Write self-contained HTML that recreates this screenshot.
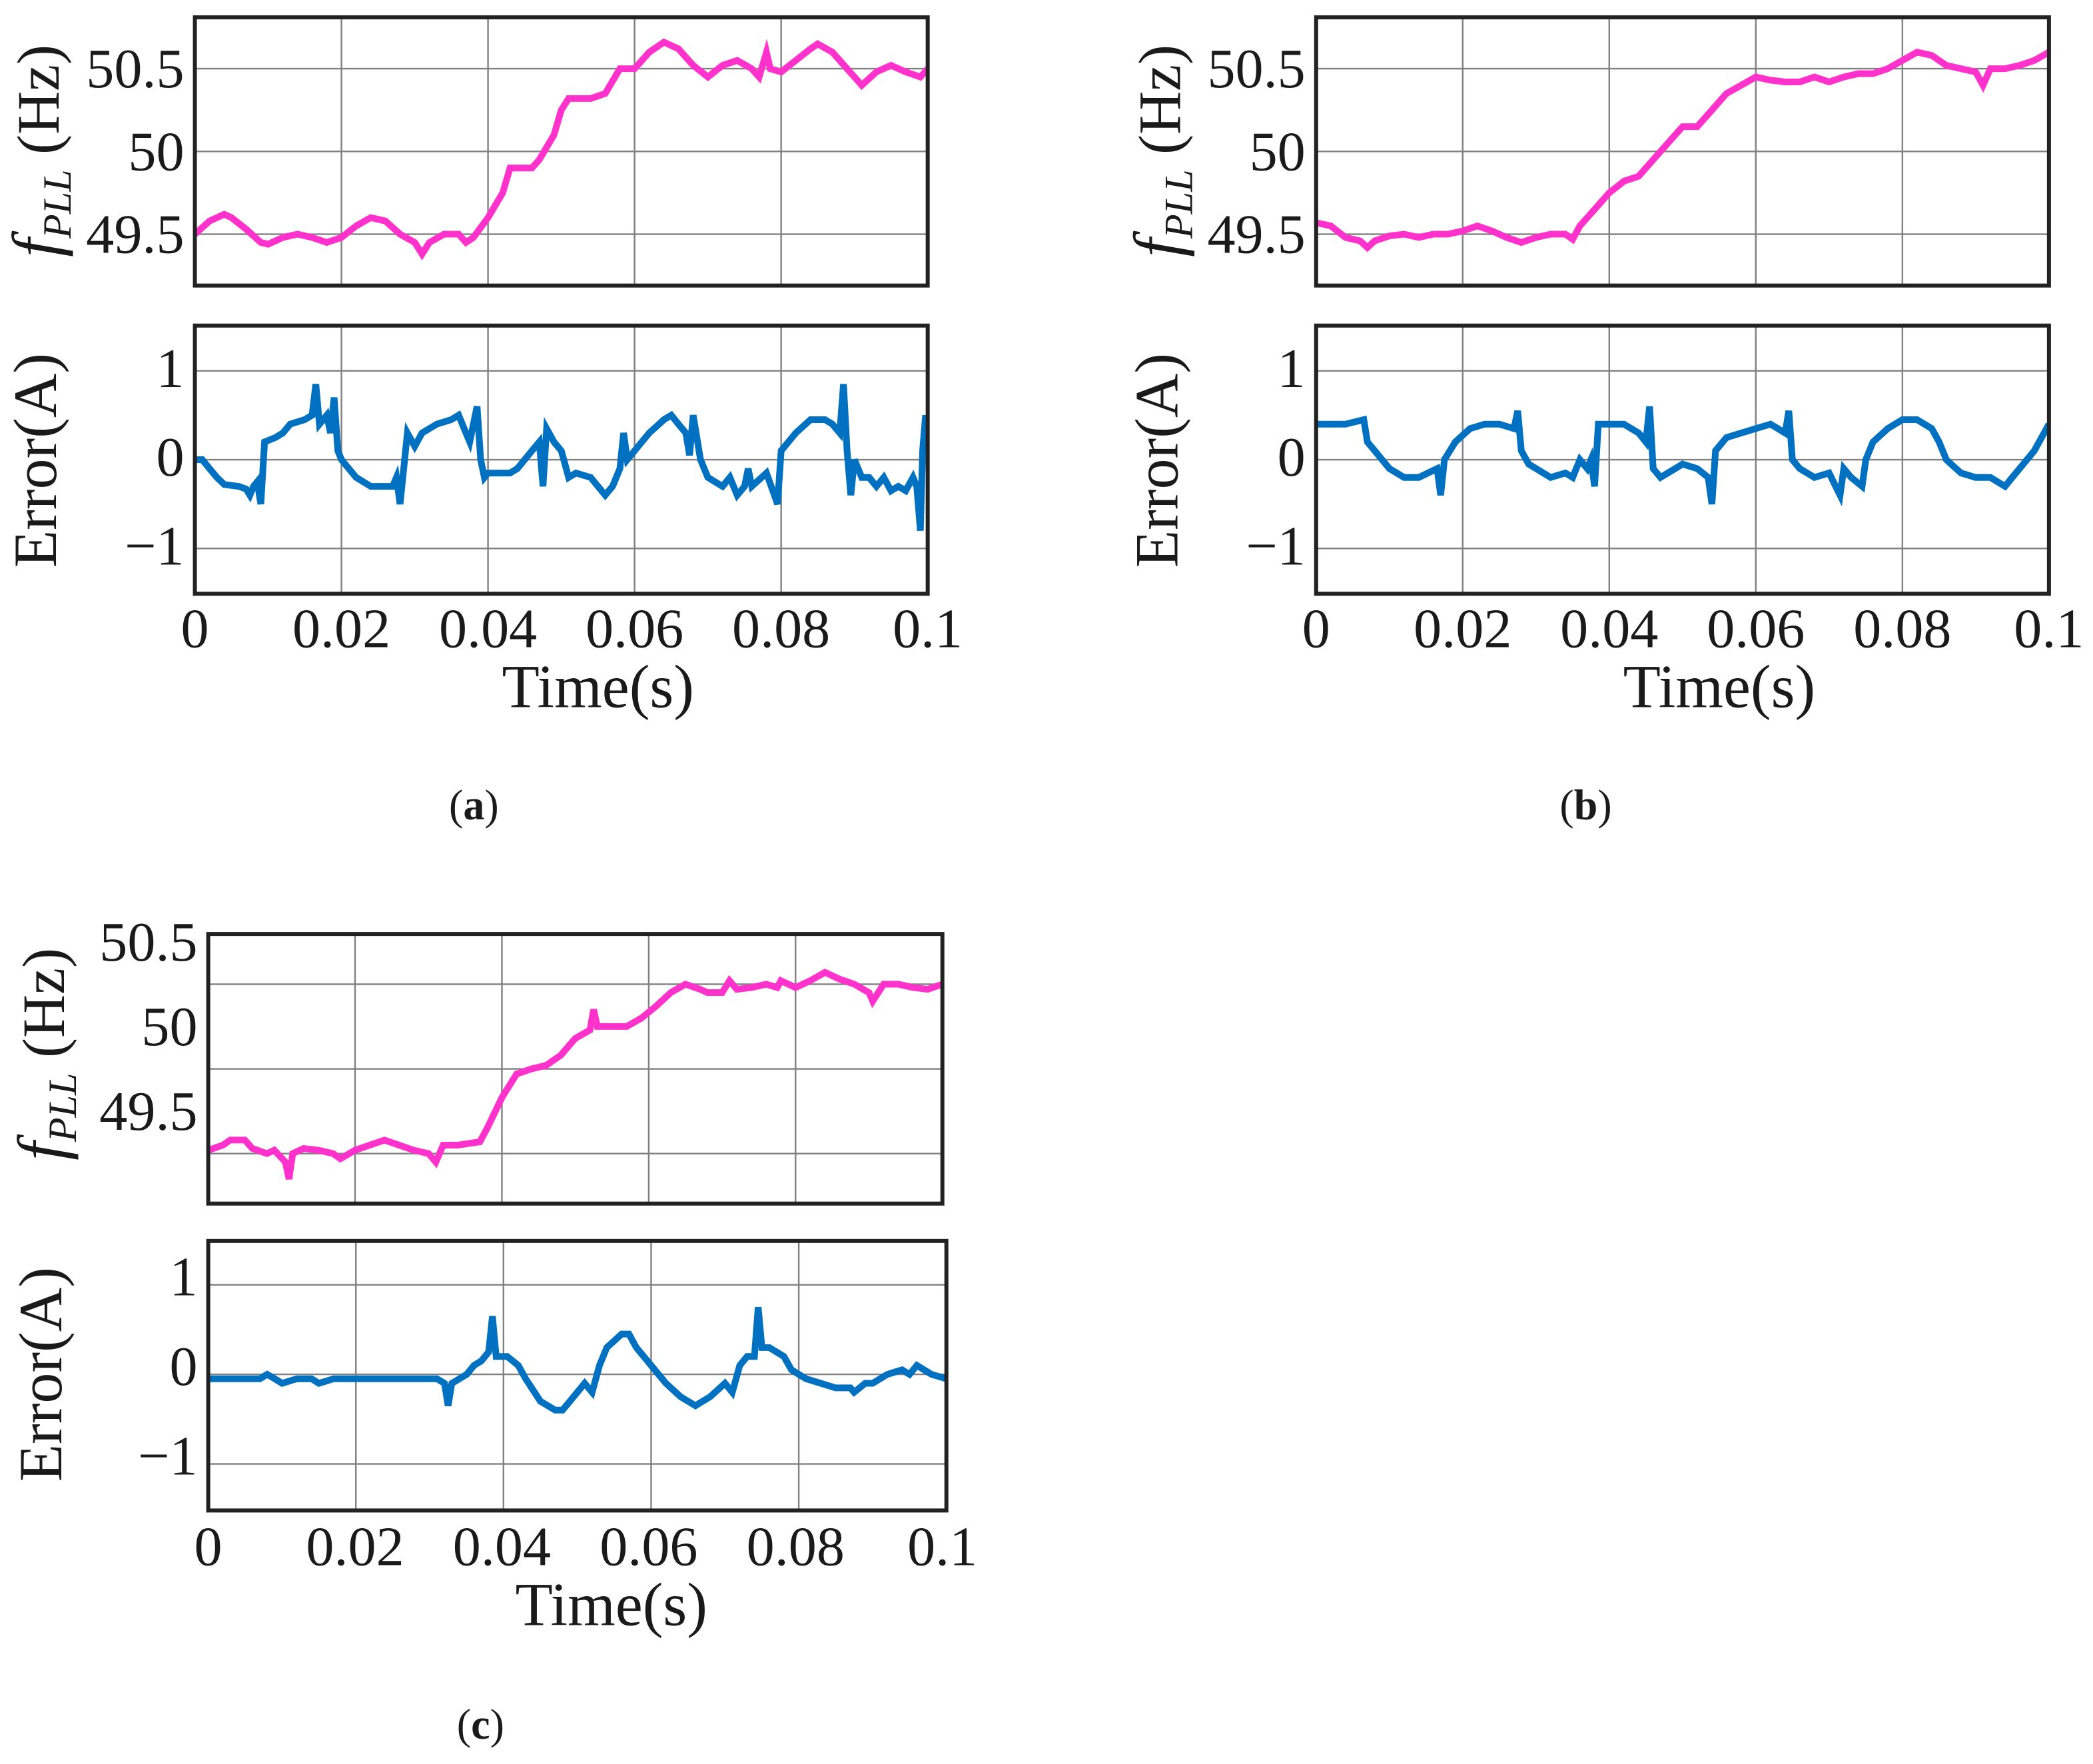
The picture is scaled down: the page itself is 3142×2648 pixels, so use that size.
<!DOCTYPE html>
<html><head><meta charset="utf-8"><style>
html,body{margin:0;padding:0;background:#fff}
svg{display:block}
text{font-family:"Liberation Serif",serif;fill:#1a1a1a}
</style></head>
<body>
<svg id="fig" width="3142" height="2648" viewBox="0 0 1568 1322" preserveAspectRatio="none" xmlns="http://www.w3.org/2000/svg"></svg>
<script>
// ---- data (time in s) ----
const aFreqT=[0,0.002,0.004,0.005,0.007,0.009,0.01,0.012,0.014,0.016,0.018,0.02,0.022,0.024,0.026,0.028,0.03,0.031,0.032,0.034,0.036,0.037,0.038,0.04,0.042,0.043,0.046,0.047,0.049,0.05,0.051,0.054,0.056,0.058,0.06,0.062,0.064,0.066,0.068,0.07,0.072,0.074,0.076,0.077,0.078,0.0785,0.08,0.082,0.084,0.085,0.087,0.089,0.09,0.091,0.093,0.095,0.097,0.099,0.1];
const aFreqV=[49.5,49.58,49.62,49.6,49.53,49.45,49.44,49.48,49.5,49.48,49.45,49.48,49.55,49.6,49.58,49.5,49.45,49.38,49.45,49.5,49.5,49.45,49.48,49.6,49.75,49.9,49.9,49.95,50.1,50.25,50.32,50.32,50.35,50.5,50.5,50.6,50.66,50.62,50.52,50.45,50.52,50.55,50.5,50.45,50.6,50.5,50.48,50.55,50.62,50.65,50.6,50.5,50.45,50.4,50.48,50.52,50.48,50.45,50.5];
const aErrT=[0,0.001,0.002,0.003,0.004,0.006,0.007,0.0075,0.008,0.0085,0.009,0.0095,0.011,0.012,0.013,0.015,0.016,0.0165,0.017,0.018,0.0185,0.019,0.0195,0.02,0.021,0.022,0.024,0.026,0.027,0.0275,0.028,0.029,0.03,0.031,0.033,0.035,0.036,0.037,0.0375,0.0385,0.039,0.0395,0.04,0.043,0.044,0.046,0.047,0.0475,0.048,0.049,0.05,0.051,0.052,0.054,0.056,0.057,0.058,0.0585,0.059,0.06,0.062,0.064,0.065,0.066,0.067,0.0675,0.068,0.069,0.07,0.072,0.073,0.074,0.075,0.0755,0.076,0.078,0.0795,0.08,0.082,0.084,0.086,0.087,0.088,0.0885,0.089,0.0895,0.09,0.091,0.092,0.093,0.094,0.095,0.096,0.097,0.098,0.0985,0.099,0.0993,0.0997,0.1];
const aErrV=[0,0,-0.1,-0.2,-0.28,-0.3,-0.33,-0.4,-0.3,-0.25,-0.5,0.2,0.25,0.3,0.4,0.45,0.5,0.85,0.4,0.5,0.3,0.7,0.1,0,-0.1,-0.2,-0.3,-0.3,-0.3,-0.2,-0.5,0.3,0.15,0.3,0.4,0.45,0.5,0.3,0.2,0.6,0,-0.2,-0.15,-0.15,-0.1,0.1,0.2,-0.3,0.35,0.2,0.1,-0.2,-0.15,-0.2,-0.4,-0.3,-0.1,0.3,0,0.1,0.3,0.45,0.5,0.4,0.3,0.05,0.5,0,-0.2,-0.3,-0.2,-0.4,-0.3,-0.1,-0.3,-0.15,-0.5,0.1,0.3,0.45,0.45,0.4,0.3,0.85,0.1,-0.4,0,-0.2,-0.2,-0.3,-0.2,-0.35,-0.3,-0.35,-0.2,-0.3,-0.8,0.1,0.5,0.1];
const bFreqT=[0,0.002,0.004,0.006,0.007,0.008,0.01,0.012,0.014,0.016,0.018,0.02,0.022,0.024,0.026,0.028,0.03,0.032,0.034,0.035,0.036,0.038,0.04,0.042,0.044,0.046,0.048,0.05,0.052,0.054,0.056,0.058,0.06,0.062,0.064,0.066,0.068,0.07,0.072,0.074,0.076,0.078,0.08,0.082,0.084,0.086,0.088,0.09,0.091,0.092,0.094,0.096,0.098,0.1];
const bFreqV=[49.57,49.55,49.48,49.46,49.42,49.46,49.49,49.5,49.48,49.5,49.5,49.52,49.55,49.52,49.48,49.45,49.48,49.5,49.5,49.47,49.55,49.65,49.75,49.82,49.85,49.95,50.05,50.15,50.15,50.25,50.35,50.4,50.45,50.43,50.42,50.42,50.45,50.42,50.45,50.47,50.47,50.5,50.55,50.6,50.58,50.52,50.5,50.48,50.4,50.5,50.5,50.52,50.55,50.6];
const bErrT=[0,0.004,0.0065,0.007,0.008,0.009,0.01,0.012,0.014,0.0165,0.017,0.0175,0.019,0.021,0.023,0.025,0.027,0.0275,0.028,0.029,0.031,0.032,0.034,0.035,0.036,0.037,0.0375,0.038,0.0385,0.04,0.042,0.044,0.045,0.0455,0.046,0.047,0.049,0.05,0.052,0.0535,0.054,0.0545,0.056,0.058,0.06,0.062,0.064,0.0645,0.065,0.066,0.068,0.07,0.0715,0.072,0.073,0.0745,0.075,0.076,0.078,0.08,0.082,0.084,0.085,0.086,0.088,0.09,0.092,0.094,0.095,0.096,0.098,0.1];
const bErrV=[0.4,0.4,0.45,0.2,0.1,0,-0.1,-0.2,-0.2,-0.1,-0.4,0,0.2,0.35,0.4,0.4,0.35,0.55,0.1,-0.05,-0.15,-0.2,-0.15,-0.2,0,-0.1,0,-0.3,0.4,0.4,0.4,0.3,0.2,0.6,-0.1,-0.2,-0.1,-0.05,-0.1,-0.2,-0.5,0.1,0.25,0.3,0.35,0.4,0.3,0.55,0,-0.1,-0.2,-0.15,-0.4,-0.1,-0.2,-0.3,0,0.2,0.35,0.45,0.45,0.35,0.2,0,-0.15,-0.2,-0.2,-0.3,-0.2,-0.1,0.1,0.4];
const cFreqT=[0,0.002,0.003,0.005,0.006,0.008,0.009,0.0105,0.011,0.0115,0.013,0.015,0.017,0.018,0.02,0.022,0.024,0.026,0.028,0.03,0.031,0.032,0.034,0.037,0.038,0.04,0.042,0.044,0.046,0.048,0.05,0.052,0.0525,0.053,0.055,0.057,0.059,0.061,0.063,0.065,0.067,0.068,0.07,0.071,0.072,0.074,0.076,0.0775,0.078,0.08,0.082,0.084,0.086,0.088,0.09,0.0905,0.092,0.094,0.096,0.098,0.1];
const cFreqV=[49.27,49.3,49.33,49.33,49.28,49.25,49.27,49.2,49.1,49.25,49.28,49.27,49.25,49.22,49.27,49.3,49.33,49.3,49.27,49.25,49.2,49.3,49.3,49.32,49.4,49.58,49.72,49.75,49.77,49.83,49.93,49.98,50.1,50.0,50.0,50.0,50.05,50.12,50.2,50.25,50.22,50.2,50.2,50.27,50.22,50.23,50.25,50.23,50.27,50.23,50.27,50.32,50.28,50.25,50.2,50.15,50.25,50.25,50.23,50.22,50.25];
const cErrT=[0,0.002,0.005,0.007,0.008,0.009,0.01,0.012,0.014,0.015,0.017,0.02,0.025,0.03,0.031,0.032,0.0325,0.033,0.035,0.036,0.037,0.038,0.0385,0.039,0.0405,0.042,0.043,0.045,0.047,0.048,0.049,0.05,0.051,0.052,0.053,0.054,0.056,0.057,0.058,0.059,0.06,0.062,0.064,0.066,0.067,0.068,0.07,0.071,0.072,0.073,0.074,0.0745,0.075,0.076,0.078,0.079,0.081,0.083,0.085,0.087,0.0875,0.089,0.09,0.092,0.094,0.095,0.096,0.098,0.1];
const cErrV=[-0.05,-0.05,-0.05,-0.05,0,-0.05,-0.1,-0.05,-0.05,-0.1,-0.05,-0.05,-0.05,-0.05,-0.05,-0.1,-0.35,-0.1,0,0.1,0.15,0.25,0.65,0.2,0.2,0.1,-0.05,-0.3,-0.4,-0.4,-0.3,-0.2,-0.1,-0.2,0.1,0.3,0.45,0.45,0.3,0.2,0.1,-0.1,-0.25,-0.35,-0.3,-0.25,-0.1,-0.2,0.1,0.2,0.2,0.75,0.3,0.3,0.2,0.05,-0.05,-0.1,-0.15,-0.15,-0.2,-0.1,-0.1,0,0.05,0,0.1,0,-0.05];
const xTicks=[0,0.02,0.04,0.06,0.08,0.1];
const xTickLabels=["0","0.02","0.04","0.06","0.08","0.1"];
const freqLabels=["49.5","50","50.5"];
const freqLabelVals=[49.5,50,50.5];
const errLabels=["\u22121","0","1"];
const errLabelVals=[-1,0,1];

const NS="http://www.w3.org/2000/svg";
const svg=document.getElementById('fig');
function mk(tag,attrs,parent){const e=document.createElementNS(NS,tag);for(const k in attrs)e.setAttribute(k,attrs[k]);(parent||svg).appendChild(e);return e;}

function panel(id,box,ymin,ymax,gridVals,labVals,labTexts,T,V,color,labOffset){
  const g=mk('g',{});
  
  
  const xs=t=>box.x0+(t-0)/(0.1)*(box.x1-box.x0);
  const ys=v=>box.y1-(v-ymin)/(ymax-ymin)*(box.y1-box.y0);
  xTicks.forEach(t=>{const l=mk('line',{x1:xs(t),x2:xs(t),y1:box.y0,y2:box.y1,stroke:'#808080','stroke-width':1.2},g);
    });
  gridVals.forEach(v=>{const l=mk('line',{x1:box.x0,x2:box.x1,y1:ys(v),y2:ys(v),stroke:'#808080','stroke-width':1.2},g);
    });
  const pts=T.map((t,i)=>xs(t).toFixed(1)+','+ys(V[i]).toFixed(1)).join(' ');
  const cp=mk('clipPath',{id:'clip-'+id},g);mk('rect',{x:box.x0,y:box.y0,width:box.x1-box.x0,height:box.y1-box.y0},cp);
  const pl=mk('polyline',{points:pts,fill:'none',stroke:color,'stroke-width':5,'stroke-linejoin':'miter','clip-path':'url(#clip-'+id+')'},g);
  
  const fr=mk('rect',{x:box.x0,y:box.y0,width:box.x1-box.x0,height:box.y1-box.y0,fill:'none',stroke:'#222','stroke-width':3},g);
  
  labVals.forEach((v,i)=>{const t=mk('text',{x:box.x0-8,y:ys(v)+(labOffset||0)+14,'text-anchor':'end','font-size':42},g);t.textContent=labTexts[i];
    });
  return xs;
}
function xlabels(xs,y){xTicks.forEach((t,i)=>{const e=mk('text',{x:xs(t),y:y,'text-anchor':'middle','font-size':42});e.textContent=xTickLabels[i];
  });}
function ytitleF(cx,cy){const e=mk('text',{transform:`translate(${cx},${cy}) rotate(-90)`,'text-anchor':'middle','font-size':45});
  
  e.innerHTML='<tspan font-style="italic" font-size="50">f</tspan><tspan font-style="italic" font-size="30" dy="9">PLL</tspan><tspan dy="-9"> (Hz)</tspan>';}
function ytitleE(cx,cy){const e=mk('text',{transform:`translate(${cx},${cy}) rotate(-90)`,'text-anchor':'middle','font-size':46});
  e.textContent='Error(A)';}
function xtitle(cx,y){const e=mk('text',{x:cx,y:y,'text-anchor':'middle','font-size':46});e.textContent='Time(s)';
  }
function cap(cx,y,letter){const e=mk('text',{x:cx,y:y,'text-anchor':'middle','font-size':32});
  e.innerHTML='(<tspan font-weight="bold">'+letter+'</tspan>)';
  }

const PINK='#ff33cc',BLUE='#0070c0';
// (a)
let xs=panel('panel-a-frequency',{x0:146,x1:695,y0:13,y1:214},49.19,50.81,[49.5,50,50.5],freqLabelVals,freqLabels,aFreqT,aFreqV,PINK);
panel('panel-a-error',{x0:146,x1:695,y0:244,y1:445},-1.51,1.51,[-1,0,1],errLabelVals,errLabels,aErrT,aErrV,BLUE,-2);
xlabels(xs,485);xtitle(448,530);ytitleF(44,113);ytitleE(42,345);cap(355,614,'a');
// (b)
xs=panel('panel-b-frequency',{x0:986,x1:1535,y0:13,y1:214},49.19,50.81,[49.5,50,50.5],freqLabelVals,freqLabels,bFreqT,bFreqV,PINK);
panel('panel-b-error',{x0:986,x1:1535,y0:244,y1:445},-1.51,1.51,[-1,0,1],errLabelVals,errLabels,bErrT,bErrV,BLUE,-2);
xlabels(xs,485);xtitle(1288,530);ytitleF(884,113);ytitleE(882,345);cap(1188,614,'b');
// (c)
xs=panel('panel-c-frequency',{x0:156,x1:706,y0:700,y1:902},48.955,50.546,[49.25,49.75,50.25],freqLabelVals,freqLabels,cFreqT,cFreqV,PINK);
panel('panel-c-error',{x0:156,x1:709,y0:930,y1:1132},-1.52,1.49,[-1,0,1],errLabelVals,errLabels,cErrT,cErrV,BLUE,-6);
xlabels(xs,1173);xtitle(458,1218);ytitleF(48,790);ytitleE(46,1030);cap(360,1303,'c');
</script>
</body></html>
